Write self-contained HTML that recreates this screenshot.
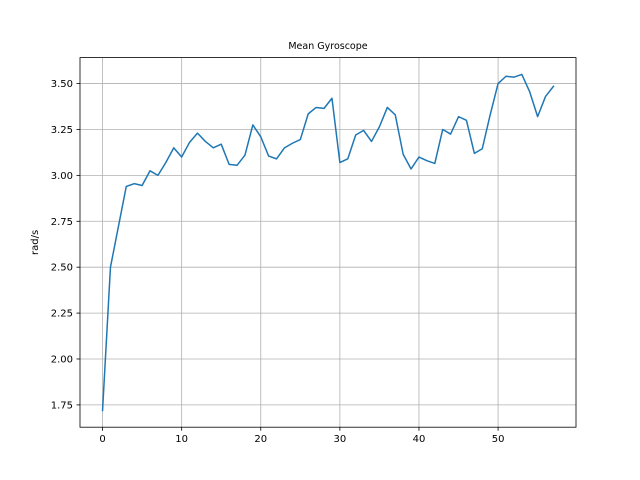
<!DOCTYPE html>
<html><head><meta charset="utf-8"><style>
body{margin:0;background:#fff;}
svg{display:block;font-family:"DejaVu Sans","Liberation Sans",sans-serif;}
</style></head><body>
<svg id="chart" width="640" height="480"></svg>
<script>
const xValues = [0,1,2,3,4,5,6,7,8,9,10,11,12,13,14,15,16,17,18,19,20,21,22,23,24,25,26,27,28,29,30,31,32,33,34,35,36,37,38,39,40,41,42,43,44,45,46,47,48,49,50,51,52,53,54,55,56,57];
const gyroValues = [1.72,2.50,2.72,2.94,2.955,2.945,3.025,3.00,3.07,3.15,3.10,3.18,3.23,3.185,3.15,3.17,3.06,3.055,3.11,3.275,3.21,3.105,3.09,3.15,3.175,3.195,3.335,3.37,3.365,3.42,3.07,3.09,3.22,3.245,3.185,3.265,3.37,3.33,3.115,3.035,3.10,3.08,3.065,3.25,3.225,3.32,3.30,3.12,3.145,3.33,3.50,3.54,3.535,3.55,3.455,3.32,3.43,3.485];
const xTicks = [0,10,20,30,40,50];
const yTicks = [1.75,2.00,2.25,2.50,2.75,3.00,3.25,3.50];
const yTickLabels = ["1.75","2.00","2.25","2.50","2.75","3.00","3.25","3.50"];

const NS="http://www.w3.org/2000/svg";
const svg=document.getElementById('chart');
const L=80,R=576,T=57.6,B=427.2;
const xmin=-2.85,xmax=59.85;
const dmin=Math.min(...gyroValues),dmax=Math.max(...gyroValues),m=(dmax-dmin)*0.05;
const ymin=dmin-m,ymax=dmax+m;
const xs=v=>L+(v-xmin)/(xmax-xmin)*(R-L);
const ys=v=>B-(v-ymin)/(ymax-ymin)*(B-T);
function mk(tag,attrs){const e=document.createElementNS(NS,tag);for(const k in attrs)e.setAttribute(k,attrs[k]);svg.appendChild(e);return e;}

xTicks.forEach(t=>{
  const x=xs(t);
  const g=mk('line',{x1:x,x2:x,y1:T,y2:B,stroke:'#b0b0b0','stroke-width':0.8});
  
  
  const tk=mk('line',{x1:x,x2:x,y1:B,y2:B+3.5,stroke:'#000','stroke-width':0.8});
  
  
  const tx=mk('text',{x:x,y:B+15,'font-size':10,'text-anchor':'middle',fill:'#000'});
  tx.textContent=t;
  
  
});
yTicks.forEach((t,i)=>{
  const y=ys(t);
  const g=mk('line',{x1:L,x2:R,y1:y,y2:y,stroke:'#b0b0b0','stroke-width':0.8});
  
  
  const tk=mk('line',{x1:L-3.5,x2:L,y1:y,y2:y,stroke:'#000','stroke-width':0.8});
  
  
  const tx=mk('text',{x:L-7,y:y+3.5,'font-size':10,'text-anchor':'end',fill:'#000'});
  tx.textContent=yTickLabels[i];
  
  
});
const pts=xValues.map((x,i)=>xs(x).toFixed(2)+','+ys(gyroValues[i]).toFixed(2)).join(' ');
const line=mk('polyline',{points:pts,fill:'none',stroke:'#1f77b4','stroke-width':1.5,'stroke-linejoin':'round','stroke-linecap':'square'});


const frame=mk('rect',{x:L,y:T,width:R-L,height:B-T,fill:'none',stroke:'#000','stroke-width':0.8});


const title=mk('text',{x:(L+R)/2,y:49,'font-size':9.5,'text-anchor':'middle',fill:'#000'});
title.textContent='Mean Gyroscope';


const yl=mk('text',{x:0,y:0,'font-size':10,'text-anchor':'middle',fill:'#000',transform:'translate(38,'+((T+B)/2)+') rotate(-90)'});
yl.textContent='rad/s';


</script>
</body></html>
